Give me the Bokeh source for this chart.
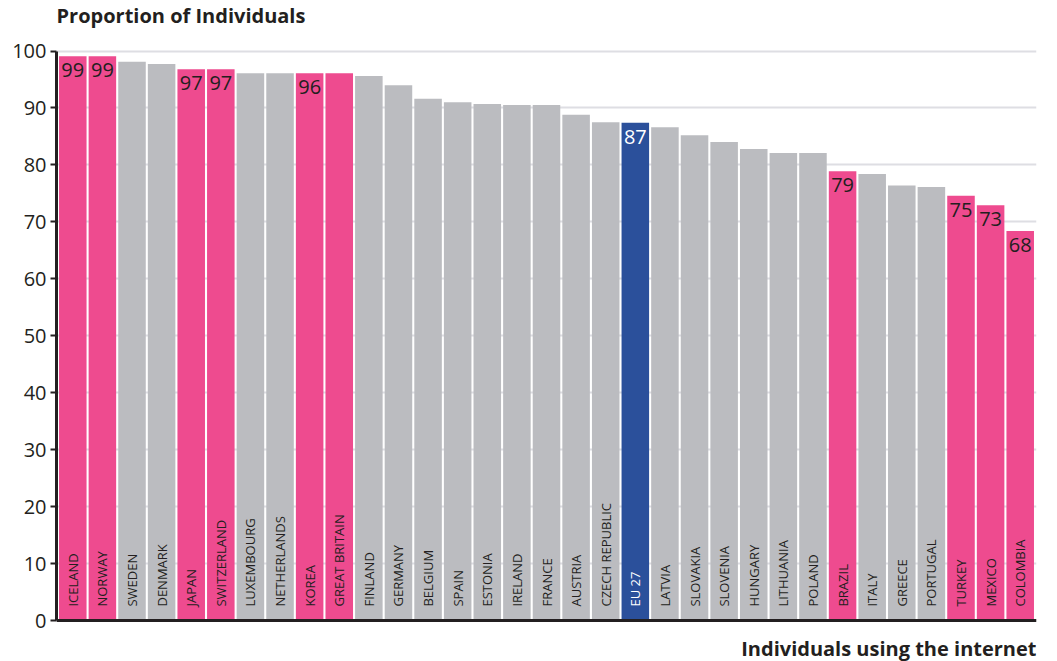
import math

from bokeh.plotting import figure
from bokeh.models import ColumnDataSource, Range1d, Span, Label, FixedTicker
from bokeh.core.properties import value
from bokeh.embed import file_html
from bokeh.resources import INLINE

# Share of individuals using the internet (%)
countries = [
    "ICELAND", "NORWAY", "SWEDEN", "DENMARK", "JAPAN", "SWITZERLAND",
    "LUXEMBOURG", "NETHERLANDS", "KOREA", "GREAT BRITAIN", "FINLAND",
    "GERMANY", "BELGIUM", "SPAIN", "ESTONIA", "IRELAND", "FRANCE",
    "AUSTRIA", "CZECH REPUBLIC", "EU 27", "LATVIA", "SLOVAKIA", "SLOVENIA",
    "HUNGARY", "LITHUANIA", "POLAND", "BRAZIL", "ITALY", "GREECE",
    "PORTUGAL", "TURKEY", "MEXICO", "COLOMBIA",
]
shares = [
    99.1, 99.1, 98.1, 97.7, 96.8, 96.8,
    96.1, 96.1, 96.1, 96.1, 95.6,
    94.0, 91.6, 91.0, 90.7, 90.5, 90.5,
    88.8, 87.5, 87.4, 86.6, 85.2, 84.0,
    82.8, 82.1, 82.1, 78.9, 78.4, 76.4,
    76.1, 74.6, 72.9, 68.4,
]
groups = [
    "non-EU", "non-EU", "EU", "EU", "non-EU", "non-EU",
    "EU", "EU", "non-EU", "non-EU", "EU",
    "EU", "EU", "EU", "EU", "EU", "EU",
    "EU", "EU", "EU 27", "EU", "EU", "EU",
    "EU", "EU", "EU", "non-EU", "EU", "EU",
    "EU", "non-EU", "non-EU", "non-EU",
]
# bars that carry their rounded value
tagged_countries = [
    "ICELAND", "NORWAY", "JAPAN", "SWITZERLAND", "KOREA", "EU 27",
    "BRAZIL", "TURKEY", "MEXICO", "COLOMBIA",
]
y_ticks = [0, 10, 20, 30, 40, 50, 60, 70, 80, 90, 100]

DARK = "#231f20"
FILL = {"non-EU": "#ee4b8f", "EU": "#bbbcc0", "EU 27": "#2b509b"}
INK = {"non-EU": DARK, "EU": DARK, "EU 27": "#ffffff"}
FONT = "Open Sans"

W, H = 1057, 661
X0, X1 = -0.55, len(countries) - 0.45
# the frame spans the full height; the value scale runs 0..100 inside it,
# leaving room above and below for the two axis captions
PX_PER_UNIT = 5.695
Y_LO = -41 / PX_PER_UNIT
Y_HI = 100 + 50.5 / PX_PER_UNIT

xs = list(range(len(countries)))
bars = ColumnDataSource(dict(
    x=xs,
    top=shares,
    name=countries,
    fill=[FILL[g] for g in groups],
    ink=[INK[g] for g in groups],
    name_y=[2.45] * len(countries),
))

tagged = [countries.index(c) for c in tagged_countries]
tags = ColumnDataSource(dict(
    x=[xs[i] for i in tagged],
    y=[shares[i] - 14 / PX_PER_UNIT for i in tagged],
    text=[f"{round(shares[i]):d}" for i in tagged],
    ink=[INK[groups[i]] for i in tagged],
))

p = figure(
    width=W, height=H,
    x_range=Range1d(X0, X1),
    y_range=Range1d(Y_LO, Y_HI),
    x_axis_location=None,
    output_backend="svg", toolbar_location=None,
    min_border_left=56, min_border_right=21,
    min_border_top=0, min_border_bottom=0,
)
p.outline_line_color = None
p.background_fill_color = "#ffffff"
p.border_fill_color = "#ffffff"

p.vbar(x="x", top="top", bottom=0, width=0.93, source=bars,
       fill_color="fill", line_color=None)

p.text(x="x", y="name_y", text="name", source=bars, angle=math.pi / 2,
       text_align="left", text_baseline="middle", text_color="ink",
       text_font=value(FONT), text_font_size="13px")

p.text(x="x", y="y", text="text", source=tags, text_align="center",
       text_baseline="middle", text_color="ink",
       text_font=value(FONT), text_font_size="20px")

# baseline along zero
p.add_layout(Span(location=0, dimension="width", line_color=DARK,
                  line_width=3, level="overlay"))

p.xgrid.visible = False
p.ygrid.ticker = FixedTicker(ticks=y_ticks)
p.ygrid.bounds = (0, 100)
p.ygrid.grid_line_color = "#dedee3"
p.ygrid.grid_line_width = 2

ax = p.yaxis[0]
ax.ticker = FixedTicker(ticks=y_ticks)
ax.bounds = (0, 100)
ax.axis_line_color = DARK
ax.axis_line_width = 3
ax.major_tick_line_color = DARK
ax.major_tick_line_width = 2
ax.major_tick_out = 6
ax.major_tick_in = 0
ax.minor_tick_line_color = None
ax.major_label_text_font = FONT
ax.major_label_text_font_size = "20px"
ax.major_label_text_color = DARK
ax.major_label_standoff = 4

# axis captions: value axis above the bars, category axis below them
p.add_layout(Label(x=X0, y=100 + 35.5 / PX_PER_UNIT,
                   text="Proportion of Individuals",
                   text_align="left", text_baseline="middle",
                   text_font=FONT, text_font_size="20px",
                   text_font_style="bold", text_color=DARK))
p.add_layout(Label(x=X1, y=-27.5 / PX_PER_UNIT,
                   text="Individuals using the internet",
                   text_align="right", text_baseline="middle",
                   text_font=FONT, text_font_size="20px",
                   text_font_style="bold", text_color=DARK))

open("out.html", "w").write(file_html(p, INLINE))
